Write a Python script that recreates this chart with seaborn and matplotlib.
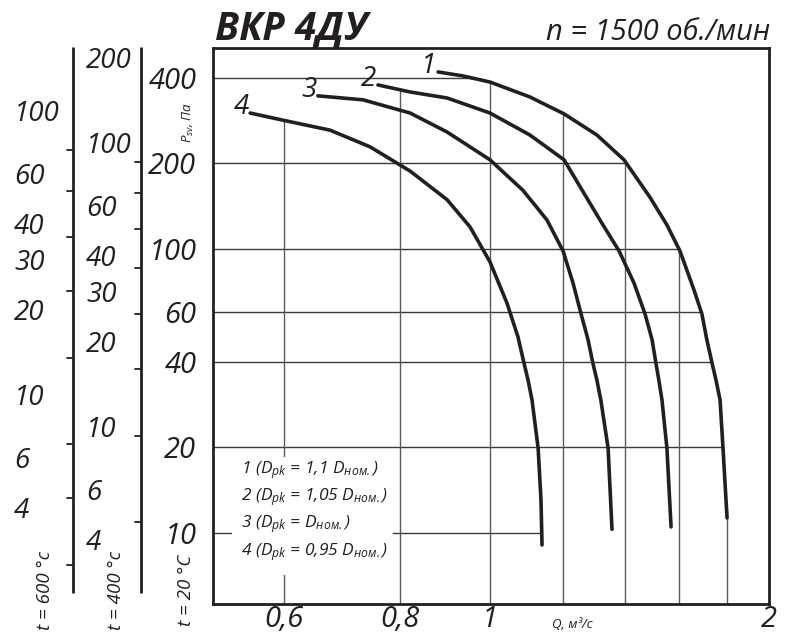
import numpy as np
import pandas as pd
import matplotlib
matplotlib.use("Agg")
import matplotlib.pyplot as plt
import seaborn as sns
from matplotlib import font_manager as fm
from matplotlib.patches import Rectangle
from matplotlib.ticker import FixedLocator, NullFormatter, NullLocator

# ---------------- data ----------------
q1 = [0.879, 0.935, 1.0, 1.104, 1.202, 1.304, 1.395, 1.488, 1.552, 1.603, 1.660, 1.693, 1.714, 1.736, 1.753, 1.771, 1.784, 1.802]
p1 = [420, 406.6, 387, 343, 299, 252, 206, 152, 121.5, 98.4, 71.7, 59.0, 47.8, 39.7, 34.6, 29.4, 19.9, 11.3]

q2 = [0.757, 0.820, 0.899, 1.0, 1.104, 1.202, 1.266, 1.324, 1.378, 1.430, 1.470, 1.496, 1.510, 1.521, 1.533, 1.552, 1.568]
p2 = [378, 357, 340, 301, 252, 206, 155, 121.5, 98.4, 75.9, 59.0, 47.8, 39.7, 34.6, 29.4, 19.9, 10.5]

q3 = [0.652, 0.7295, 0.820, 0.899, 1.0, 1.085, 1.152, 1.199, 1.229, 1.254, 1.276, 1.291, 1.304, 1.317, 1.341, 1.354]
p3 = [346, 335, 301, 258, 206, 161, 126.5, 98.4, 75.9, 59.0, 47.8, 39.7, 34.6, 29.4, 19.9, 10.3]

q4 = [0.551, 0.604, 0.672, 0.742, 0.820, 0.899, 0.9515, 1.0, 1.043, 1.072, 1.088, 1.099, 1.110, 1.127, 1.135, 1.138]
p4 = [301, 282, 262, 229, 188, 149, 119.6, 90.0, 64.5, 49.0, 39.7, 34.6, 29.4, 19.9, 13.1, 9.07]

curve_names = ["1", "2", "3", "4"]
legend_lines = [
    r"1 (D$_{pk}$ = 1,1 D$_{ном.}$)",
    r"2 (D$_{pk}$ = 1,05 D$_{ном.}$)",
    r"3 (D$_{pk}$ = D$_{ном.}$)",
    r"4 (D$_{pk}$ = 0,95 D$_{ном.}$)",
]

x_major = [0.6, 0.8, 1.0, 2.0]
x_major_labels = ["0,6", "0,8", "1", "2"]
x_minor = [1.2, 1.4, 1.6, 1.8]

y_main = [400, 200, 100, 60, 40, 20, 10]

# secondary temperature scales
t400_labels = [200, 100, 60, 40, 30, 20, 10, 6, 4]
t600_labels = [100, 60, 40, 30, 20, 10, 6, 4]
# tick marks on the secondary scales (Pa at 20 °C scale)
t400_ticks = [202, 157, 118, 85.7, 59.0, 37.8, 22.0, 10.9]
t600_ticks = [223, 160, 110, 71.1, 41.3, 20.6, 13.3, 7.71]

title = "ВКР 4ДУ"
subtitle = "n = 1500 об./мин"

# ---------------- style ----------------
sns.set_theme(style="white")


def pick_family():
    for fam in ["Open Sans", "Roboto", "Lato", "Noto Sans", "Liberation Sans", "DejaVu Sans"]:
        try:
            path = fm.findfont(fm.FontProperties(family=fam, style="italic"),
                               fallback_to_default=False)
        except Exception:
            continue
        n = path.lower()
        if "italic" in n or "oblique" in n:
            return fam
    return "DejaVu Sans"


FAM = pick_family()
plt.rcParams["font.family"] = [FAM, "DejaVu Sans"]
plt.rcParams["font.style"] = "italic"
plt.rcParams["mathtext.default"] = "regular"
INK = "#231f20"

fig = plt.figure(figsize=(7.9, 6.35), dpi=100)
fig.patch.set_facecolor("white")
ax = fig.add_axes([213 / 790, 31 / 635, 556 / 790, 556 / 635])
ax.set_facecolor("white")

curves = [(q1, p1), (q2, p2), (q3, p3), (q4, p4)]
df = pd.concat([pd.DataFrame({"Q": q, "P": p, "curve": n})
                for (q, p), n in zip(curves, curve_names)], ignore_index=True)

sns.lineplot(data=df, x="Q", y="P", hue="curve", palette=[INK] * 4,
             estimator=None, sort=False, legend=False, linewidth=2.6,
             ax=ax, zorder=5)
for ln in ax.get_lines():
    ln.set_solid_joinstyle("round")
    ln.set_solid_capstyle("round")
ax.set_xscale("log")
ax.set_yscale("log")
XL = (0.5025, 2.0)
YL = (5.62, 510)
ax.set_xlim(*XL)
ax.set_ylim(*YL)
ax.set_xlabel("")
ax.set_ylabel("")

# ---------------- grid clipped under the curves ----------------
def q_at_p(pg):
    best = None
    for q, p in curves:
        if min(p) <= pg <= max(p):
            v = 10 ** np.interp(np.log10(pg), np.log10(p)[::-1], np.log10(q)[::-1])
            best = v if best is None else max(best, v)
    return best


def p_at_q(qg):
    best = None
    for q, p in curves:
        if min(q) <= qg <= max(q):
            v = 10 ** np.interp(np.log10(qg), np.log10(q), np.log10(p))
            best = v if best is None else max(best, v)
    return best


for pg in y_main:
    qe = q_at_p(pg)
    if qe is not None:
        ax.plot([XL[0], qe], [pg, pg], color="#3a3a3a", lw=1.0, zorder=1)
for qg in x_major[:-1] + x_minor:
    pe = p_at_q(qg)
    if pe is not None:
        ax.plot([qg, qg], [YL[0], pe], color="#5a5a5a", lw=1.0, zorder=1)

# ---------------- axes / ticks ----------------
for s in ax.spines.values():
    s.set_visible(True)
    s.set_color(INK)
    s.set_linewidth(2.0)

ax.xaxis.set_major_locator(FixedLocator(x_major))
ax.set_xticklabels(x_major_labels)
ax.xaxis.set_minor_locator(FixedLocator(x_minor))
ax.xaxis.set_minor_formatter(NullFormatter())
ax.yaxis.set_major_locator(FixedLocator(y_main))
ax.set_yticklabels([str(v) for v in y_main])
ax.yaxis.set_minor_locator(NullLocator())
ax.tick_params(axis="both", which="both", direction="out", length=6, width=1.3,
               color=INK, labelcolor=INK, labelsize=21)
ax.tick_params(axis="x", which="both", pad=-5)
ax.tick_params(axis="y", which="both", pad=6)

# curve number labels
for (q, p), n in zip(curves, curve_names):
    ax.annotate(n, xy=(q[0], p[0]), xytext=(-1, 4), textcoords="offset points",
                ha="right", va="center", fontsize=20, color=INK, zorder=6)

# legend box
ax.add_patch(Rectangle((0.034, 0.052), 0.29, 0.212, transform=ax.transAxes,
                       facecolor="white", edgecolor="none", zorder=3))
for i, line in enumerate(legend_lines):
    ax.text(0.050, 0.241 - i * 0.049, line, transform=ax.transAxes,
            ha="left", va="center", fontsize=12.5, color=INK, zorder=4)

# ---------------- secondary temperature scales ----------------
trans = ax.get_yaxis_transform()  # x in axes, y in data


def draw_scale(xa, temp, labels, ticks, xlab):
    ax.plot([xa, xa], [0.0198, 1.002], transform=ax.transAxes, color=INK,
            lw=2.0, clip_on=False, solid_capstyle="butt")
    tk = 6 / 556
    for t in ticks:
        ax.plot([xa - tk, xa], [t, t], transform=trans, color=INK, lw=1.3,
                clip_on=False)
    ratio = (273 + temp) / 293.0
    for v in labels:
        ax.text(xlab, v * ratio, str(v), transform=trans, ha="left",
                va="center", fontsize=20, color=INK, clip_on=False)


draw_scale((73 - 213) / 556, 600, t600_labels, t600_ticks, (14 - 213) / 556)
draw_scale((141 - 213) / 556, 400, t400_labels, t400_ticks, (86 - 213) / 556)

for xa, s in [((45 - 213) / 556, "t = 600 °c"), ((116 - 213) / 556, "t = 400 °c"),
              ((186 - 213) / 556, "t = 20 °C")]:
    ax.text(xa, (604 - 590) / 556, s, transform=ax.transAxes, rotation=90,
            ha="center", va="center", fontsize=13.5, color=INK, clip_on=False)

ax.text((188 - 213) / 556, (604 - 122) / 556, r"P$_{sv}$, Па", transform=ax.transAxes,
        rotation=90, ha="center", va="center", fontsize=9.5, color=INK)
ax.text((552 - 213) / 556, (604 - 624) / 556, "Q, м³/с", transform=ax.transAxes,
        ha="left", va="center", fontsize=9.5, color=INK, clip_on=False)

fig.text(215 / 790, 1 - 40 / 635, title, ha="left", va="baseline", fontsize=28,
         fontweight="bold", color=INK)
fig.text(770 / 790, 1 - 40 / 635, subtitle, ha="right", va="baseline",
         fontsize=21, color=INK)

fig.savefig("out.png", dpi=100, facecolor="white")
